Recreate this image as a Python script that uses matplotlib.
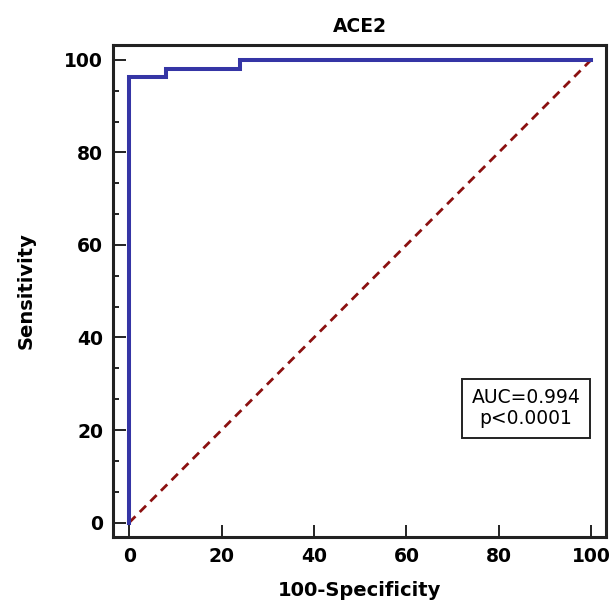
import matplotlib
matplotlib.use("Agg")
import matplotlib.pyplot as plt
from matplotlib.ticker import MultipleLocator

# ROC data (100-Specificity, Sensitivity)
fpr = [0, 0, 8, 8, 24, 24, 100]
tpr = [0, 96.3, 96.3, 98.1, 98.1, 100, 100]
ref_x = [0, 100]
ref_y = [0, 100]
title = "ACE2"
auc_text = "AUC=0.994\np<0.0001"
xticks = [0, 20, 40, 60, 80, 100]
yticks = [0, 20, 40, 60, 80, 100]

plt.rcParams['font.family'] = ['DejaVu Sans']
fig = plt.figure(figsize=(6.13, 6.04), dpi=100)
ax = fig.add_axes([0.1843, 0.111, 0.8043, 0.8145])

ax.plot(ref_x, ref_y, color='#8b1010', lw=2.0, ls=(0, (3.2, 2.2)), zorder=2)
ax.plot(fpr, tpr, color='#3535a5', lw=2.9, zorder=3, solid_joinstyle='miter')

ax.set_xlim(-3.5, 103.2)
ax.set_ylim(-3.1, 103.2)
ax.set_xticks(xticks)
ax.set_yticks(yticks)
ax.yaxis.set_minor_locator(MultipleLocator(20 / 3))
ax.tick_params(axis='both', which='major', direction='in', length=9, width=1.4,
               labelsize=13.5, pad=7, color='#222222')
ax.tick_params(axis='y', which='minor', direction='in', length=4.3, width=1.4, color='#222222')
for lab in ax.get_xticklabels() + ax.get_yticklabels():
    lab.set_fontweight('bold')
for s in ax.spines.values():
    s.set_linewidth(2.2)
    s.set_color('#222222')

ax.set_title(title, fontsize=13.5, fontweight='bold', pad=9)
ax.set_xlabel("100-Specificity", fontsize=14, fontweight='bold', labelpad=11)
ax.set_ylabel("Sensitivity", fontsize=14, fontweight='bold', labelpad=21)

ax.text(0.838, 0.262, auc_text, transform=ax.transAxes, ha='center', va='center',
        fontsize=13.5, linespacing=1.15,
        bbox=dict(boxstyle='square,pad=0.5', fc='white', ec='#222222', lw=1.4))

fig.savefig("out.png", dpi=100)
